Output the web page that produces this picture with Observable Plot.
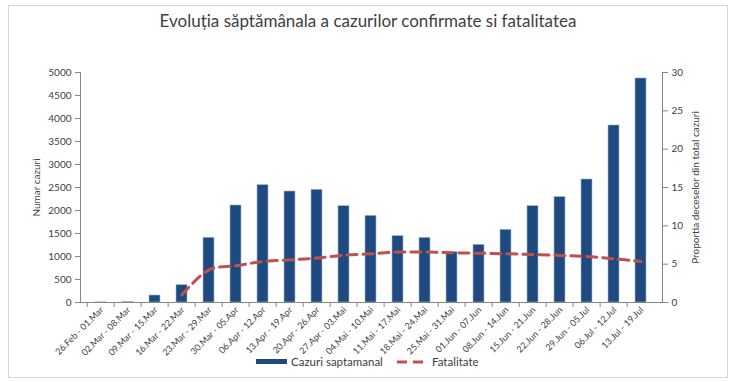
<!DOCTYPE html>
<html>
<head>
<meta charset="utf-8">
<script src="https://cdn.jsdelivr.net/npm/d3@7"></script>
<script src="https://cdn.jsdelivr.net/npm/@observablehq/plot@0.6"></script>
<style>
  html, body { margin: 0; padding: 0; background: #fff; }
  #wrap { position: relative; width: 732px; height: 382px; overflow: hidden; font-family: Lato, "Open Sans", sans-serif; }
  #frame { position: absolute; left: 8px; top: 5px; width: 720px; height: 373px; border: 1px solid #d6d6d6; box-sizing: border-box; }
  #title { position: absolute; left: 8px; width: 720px; top: 10px; text-align: center; font-size: 17px; color: #404040; }
  #chart { position: absolute; left: 0; top: 50px; }
  .lg { position: absolute; top: 355px; font-size: 11.5px; color: #404040; display: flex; align-items: center; white-space: nowrap; }
  .sw { display: inline-block; margin-right: 4px; }
</style>
</head>
<body>
<div id="wrap">
  <div id="frame"></div>
  <div id="title">Evoluția săptămânala a cazurilor confirmate si fatalitatea</div>
  <div id="chart"></div>
  <div class="lg" style="left:256px"><span class="sw" style="width:31px;height:5px;background:#1f4a80;"></span><span>Cazuri saptamanal</span></div>
  <div class="lg" style="left:397px"><svg class="sw" width="31" height="6"><line x1="0" y1="3" x2="31" y2="3" stroke="#c0504d" stroke-width="3" stroke-dasharray="10,6"></line></svg><span>Fatalitate</span></div>
</div>
<script>
const categories = ["26.Feb - 01.Mar","02.Mar - 08.Mar","09.Mar - 15.Mar","16.Mar - 22.Mar","23.Mar - 29.Mar","30.Mar - 05.Apr","06.Apr - 12.Apr","13.Apr - 19.Apr","20.Apr - 26.Apr","27.Apr - 03.Mai","04.Mai - 10.Mai","11.Mai - 17.Mai","18.Mai - 24.Mai","25.Mai - 31.Mai","01.Jun - 07.Jun","08.Jun - 14.Jun","15.Jun - 21.Jun","22.Jun - 28.Jun","29.Jun - 05.Jul","06.Jul - 12.Jul","13.Jul - 19.Jul"];
const cazuri = [3, 10, 152, 376, 1407, 2109, 2551, 2413, 2449, 2094, 1884, 1442, 1406, 1094, 1254, 1580, 2094, 2290, 2674, 3848, 4870];
const fatalitate = [null, null, null, 1.0, 4.26, 4.8, 5.35, 5.56, 5.8, 6.17, 6.35, 6.58, 6.58, 6.48, 6.43, 6.35, 6.26, 6.13, 6.0, 5.7, 5.35];
const leftTicks = [0, 500, 1000, 1500, 2000, 2500, 3000, 3500, 4000, 4500, 5000];
const rightTicks = [0, 5, 10, 15, 20, 25, 30];
const leftMax = 5000, rightMax = 30;
const K = leftMax / rightMax;

const bars = categories.map((c, i) => ({cat: c, v: cazuri[i]}));
const line = categories.map((c, i) => ({cat: c, f: fatalitate[i]})).filter(d => d.f != null);

const W = 732, ML = 80, MR = 70;
const step = (W - ML - MR) / categories.length;
const axisColor = "#868686";

const chart = Plot.plot({
  width: W, height: 320,
  marginTop: 22, marginBottom: 68, marginLeft: ML, marginRight: MR,
  style: {fontFamily: "Lato, 'Open Sans', sans-serif", fontSize: "10px", color: "#404040", background: "transparent", overflow: "visible"},
  x: {domain: categories, paddingInner: 0.58, paddingOuter: 0.29, axis: null},
  y: {domain: [0, leftMax], axis: null},
  marks: [
    Plot.barY(bars, {x: "cat", y: "v", fill: "#1f4a80", stroke: "#9fb6d6", strokeWidth: 0.6}),
    Plot.line(line, {x: "cat", y: d => d.f * K, stroke: "#c0504d", strokeWidth: 3, strokeDasharray: "10,6", curve: "catmull-rom"}),
    Plot.frame({anchor: "left", stroke: axisColor}),
    Plot.frame({anchor: "right", stroke: axisColor}),
    Plot.frame({anchor: "bottom", stroke: axisColor}),
    Plot.axisY(leftTicks, {anchor: "left", tickSize: 5, tickPadding: 4, stroke: axisColor, tickFormat: d3.format("d"),
      label: "Numar cazuri", labelAnchor: "center", labelArrow: "none", labelOffset: 48, fontSize: 10}),
    Plot.axisY(rightTicks.map(v => v * K), {anchor: "right", tickSize: 5, tickPadding: 4, stroke: axisColor, tickFormat: d => Math.round(d / K),
      label: "Proportia deceselor din total cazuri", labelAnchor: "center", labelArrow: "none", labelOffset: 36, fontSize: 10}),
    Plot.ruleX(categories, {x: d => d, y1: 0, y2: 0, insetBottom: -5, dx: -step / 2, stroke: axisColor}),
    Plot.text(categories, {x: d => d, frameAnchor: "bottom", rotate: -45, textAnchor: "end", dx: 3, dy: 8, fontSize: 9, fill: "#404040"})
  ]
});
document.getElementById("chart").appendChild(chart);
</script>
</body>
</html>
